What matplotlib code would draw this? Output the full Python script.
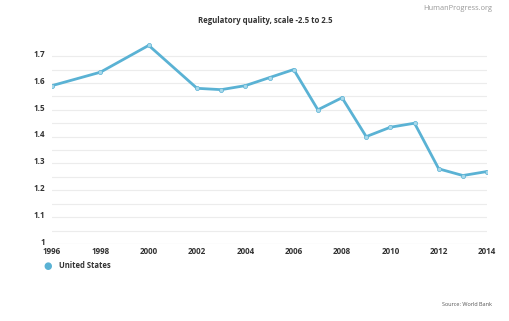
import matplotlib.pyplot as plt
from matplotlib.ticker import FixedLocator
from matplotlib.transforms import ScaledTranslation

# Regulatory quality, United States (World Bank)
years = [1996, 1998, 2000, 2002, 2003, 2004, 2005, 2006, 2007, 2008, 2009, 2010, 2011, 2012, 2013, 2014]
quality = [1.59, 1.64, 1.74, 1.58, 1.575, 1.59, 1.62, 1.65, 1.50, 1.545, 1.40, 1.435, 1.45, 1.28, 1.255, 1.27]
y_ticks = [1, 1.1, 1.2, 1.3, 1.4, 1.5, 1.6, 1.7]
y_labels = ['1', '1.1', '1.2', '1.3', '1.4', '1.5', '1.6', '1.7']
y_minor = [1.05, 1.15, 1.25, 1.35, 1.45, 1.55, 1.65]
x_ticks = list(range(1996, 2015, 2))

plt.rcParams['font.family'] = ['Open Sans', 'DejaVu Sans']
line_color = '#5ab2d4'
text_color = '#333333'

fig = plt.figure(figsize=(5.1, 3.21), dpi=100)
ax = fig.add_axes([0.102, 0.24, 0.853, 0.627])

ax.plot(years, quality, color=line_color, lw=2.0, marker='o', ms=3.0,
        mfc='#a8d8ea', mec=line_color, mew=0.5, zorder=3)

ax.set_xlim(1996, 2014)
ax.set_ylim(1, 1.75)
ax.yaxis.set_major_locator(FixedLocator(y_ticks))
ax.set_yticklabels(y_labels)
ax.yaxis.set_minor_locator(FixedLocator(y_minor))
ax.set_xticks(x_ticks)
ax.set_xticklabels([str(y) for y in x_ticks])

ax.grid(axis='y', which='both', color='#ececec', lw=0.8, zorder=0)
for s in ax.spines.values():
    s.set_visible(False)
ax.axhline(1, color='#dddddd', lw=0.8, zorder=1)

ax.tick_params(axis='both', which='both', length=0, colors=text_color, labelsize=5.8)
ax.tick_params(axis='y', pad=5)
ax.tick_params(axis='x', pad=2)
shift = ScaledTranslation(0, 2 / 72, fig.dpi_scale_trans)
for lbl in ax.get_yticklabels():
    lbl.set_fontweight('bold')
    lbl.set_transform(lbl.get_transform() + shift)
for lbl in ax.get_xticklabels():
    lbl.set_fontweight('bold')

fig.text(0.52, 0.935, 'Regulatory quality, scale -2.5 to 2.5', ha='center', va='center',
         fontsize=5.6, fontweight='bold', color=text_color)
fig.text(0.965, 0.975, 'HumanProgress.org', ha='right', va='center',
         fontsize=5.3, color='#999999')
fig.text(0.965, 0.05, 'Source: World Bank', ha='right', va='center',
         fontsize=4, color='#555555')

# legend
fig.text(0.094, 0.172, '●', ha='center', va='center', fontsize=7, color=line_color,
         family='DejaVu Sans')
fig.text(0.115, 0.172, 'United States', ha='left', va='center',
         fontsize=5.5, fontweight='bold', color=text_color)

fig.savefig('out.png', dpi=100, facecolor='white')
